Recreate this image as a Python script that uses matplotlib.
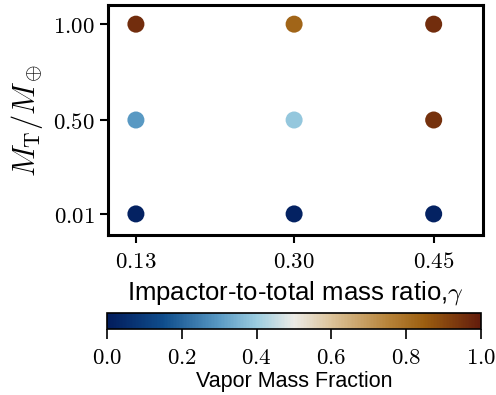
import matplotlib
matplotlib.use("Agg")
import matplotlib.pyplot as plt
from matplotlib.colors import LinearSegmentedColormap
import numpy as np

plt.rcParams['mathtext.fontset'] = 'cm'
plt.rcParams['font.family'] = ['Liberation Sans', 'DejaVu Sans']

# data
gamma = [0.13, 0.30, 0.45, 0.13, 0.30, 0.45, 0.13, 0.30, 0.45]
target_mass = [1.00, 1.00, 1.00, 0.50, 0.50, 0.50, 0.01, 0.01, 0.01]
vapor_frac = [0.96, 0.83, 0.96, 0.30, 0.39, 0.95, 0.02, 0.02, 0.02]
x_ticks = [0.13, 0.30, 0.45]
y_ticks = [0.01, 0.50, 1.00]
cbar_ticks = [0.0, 0.2, 0.4, 0.6, 0.8, 1.0]

# approximation of the "vik" colormap
vik = LinearSegmentedColormap.from_list('vik', [
    (0.00, '#021c5c'),
    (0.15, '#0f4d8c'),
    (0.30, '#5a9ac4'),
    (0.40, '#9ccde0'),
    (0.50, '#ecebe6'),
    (0.60, '#dcc39a'),
    (0.75, '#b7843a'),
    (0.85, '#9c5e10'),
    (1.00, '#631c0c'),
])

fig = plt.figure(figsize=(4.96, 3.95), dpi=100)
ax = fig.add_axes([108 / 496, 1 - 235 / 395, 375 / 496, 230 / 395])

ax.scatter(gamma, target_mass, c=vapor_frac, cmap=vik, vmin=0, vmax=1,
           s=150, edgecolors='none', zorder=3)

ax.set_xlim(0.10, 0.503)
ax.set_ylim(-0.10, 1.10)
ax.set_xticks(x_ticks)
ax.set_xticklabels([r'$%.2f$' % v for v in x_ticks])
ax.set_yticks(y_ticks)
ax.set_yticklabels([r'$%.2f$' % v for v in y_ticks])
ax.tick_params(labelsize=16.5, width=1.5, length=6, color='black')
ax.tick_params(axis='x', pad=5)
for sp in ax.spines.values():
    sp.set_linewidth(2.2)

ax.set_xlabel(r'Impactor-to-total mass ratio,$\gamma$', fontsize=18.5, labelpad=4)
ax.set_ylabel(r'$M_\mathrm{T}/M_\oplus$', fontsize=22, labelpad=6)

cax = fig.add_axes([107 / 496, 1 - 329 / 395, 374 / 496, 16 / 395])
sm = plt.cm.ScalarMappable(cmap=vik, norm=plt.Normalize(0, 1))
cb = fig.colorbar(sm, cax=cax, orientation='horizontal')
cb.set_ticks(cbar_ticks)
cb.set_ticklabels([r'$%.1f$' % v for v in cbar_ticks])
cb.ax.tick_params(labelsize=16.5, width=1.2, length=7, pad=5)
cb.outline.set_linewidth(1.2)
cb.set_label('Vapor Mass Fraction', fontsize=15.5, labelpad=2)

fig.savefig('out.png', dpi=100)
